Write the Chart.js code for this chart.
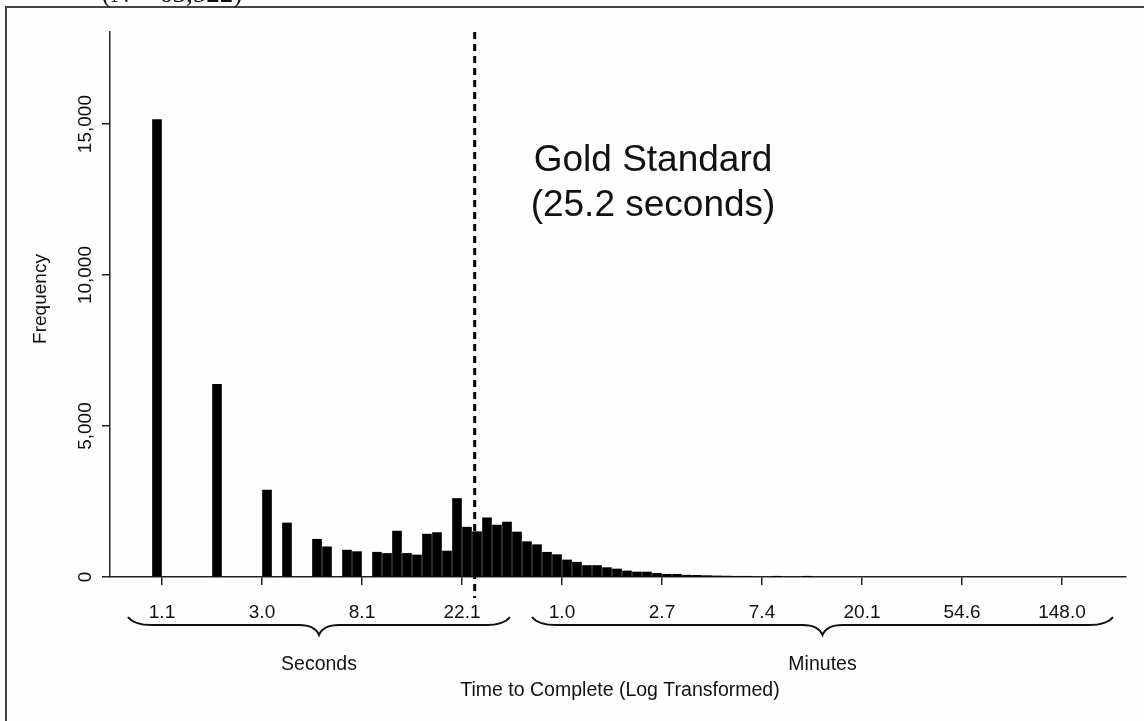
<!DOCTYPE html>
<html>
<head>
<meta charset="utf-8">
<script src="https://cdn.jsdelivr.net/npm/chart.js@4"></script>
<style>
  html, body { margin: 0; padding: 0; background: #fefefe; }
  canvas { display: block; }
</style>
</head>
<body>
<canvas id="hist" width="1144" height="721"></canvas>
<script>
// --- data (log seconds bins, width 0.1) ---
const binStarts = [0.0, 0.6, 1.1, 1.3, 1.6, 1.7, 1.9, 2.0, 2.2, 2.3,
    2.4, 2.5, 2.6, 2.7, 2.8, 2.9, 3.0, 3.1, 3.2, 3.3,
    3.4, 3.5, 3.6, 3.7, 3.8, 3.9, 4.0, 4.1, 4.2, 4.3,
    4.4, 4.5, 4.6, 4.7, 4.8, 4.9, 5.0, 5.1, 5.2, 5.3,
    5.4, 5.5, 5.6, 5.7, 5.8, 5.9, 6.2, 6.5];
const counts = [15150, 6380, 2880, 1790, 1250, 1000, 890, 840, 820, 780,
    1520, 780, 730, 1420, 1470, 860, 2600, 1650, 1500, 1960,
    1720, 1820, 1490, 1170, 1070, 820, 740, 565, 490, 380,
    380, 310, 265, 200, 165, 165, 120, 90, 90, 60,
    55, 45, 35, 30, 25, 20, 15, 15];
const binWidth = 0.1;

const xTickValues = [0.1, 1.1, 2.1, 3.1, 4.1, 5.1, 6.1, 7.1, 8.1, 9.1];
const xTickLabels = ['1.1', '3.0', '8.1', '22.1', '1.0', '2.7', '7.4', '20.1', '54.6', '148.0'];
const yTickValues = [0, 5000, 10000, 15000];

const goldStandardSec = 25.2;
const groups = [
    { label: 'Seconds', from: -0.24, to: 3.58 },
    { label: 'Minutes', from: 3.80, to: 9.61 }
];

const FONT = "'Liberation Sans', Arial, sans-serif";
const INK = '#111';

// --- 注記プラグイン ---
const decor = {
    id: 'decor',
    beforeDraw(chart) {
        const ctx = chart.ctx;
        ctx.save();
        ctx.fillStyle = '#fefefe';
        ctx.fillRect(0, 0, chart.width, chart.height);
        // frame
        ctx.strokeStyle = '#444';
        ctx.lineWidth = 2;
        ctx.beginPath();
        ctx.moveTo(6, chart.height);
        ctx.lineTo(6, 7);
        ctx.lineTo(chart.width, 7);
        ctx.stroke();
        // clipped title
        ctx.fillStyle = '#111';
        ctx.font = "27px 'Liberation Serif', 'Times New Roman', serif";
        ctx.textAlign = 'center';
        ctx.textBaseline = 'alphabetic';
        ctx.fillText('(N = 63,522)', 172, 2);
        ctx.restore();
    },
    afterDatasetsDraw(chart) {
        const { ctx, scales: { x } } = chart;
        const gx = x.getPixelForValue(Math.log(goldStandardSec));
        ctx.save();
        ctx.strokeStyle = '#000';
        ctx.lineWidth = 3;
        ctx.setLineDash([7, 5]);
        ctx.beginPath();
        ctx.moveTo(gx, chart.chartArea.top);
        ctx.lineTo(gx, 598);
        ctx.stroke();
        ctx.restore();
    },
    afterDraw(chart) {
        const { ctx, scales: { x, y } } = chart;
        ctx.save();
        ctx.fillStyle = INK;

        // y tick labels (rotated)
        ctx.font = `19px ${FONT}`;
        ctx.textAlign = 'center';
        ctx.textBaseline = 'alphabetic';
        yTickValues.forEach(v => {
            ctx.save();
            ctx.translate(91, y.getPixelForValue(v));
            ctx.rotate(-Math.PI / 2);
            ctx.fillText(v.toLocaleString('en-US'), 0, 0);
            ctx.restore();
        });
        ctx.save();
        ctx.translate(46, 299);
        ctx.rotate(-Math.PI / 2);
        ctx.fillText('Frequency', 0, 0);
        ctx.restore();

        // braces + group labels
        ctx.strokeStyle = INK;
        ctx.lineWidth = 2;
        groups.forEach(g => {
            const x1 = x.getPixelForValue(g.from);
            const x2 = x.getPixelForValue(g.to);
            const xm = (x1 + x2) / 2;
            const yl = 625, yt = 617, yc = 635;
            ctx.beginPath();
            ctx.moveTo(x1, yt);
            ctx.quadraticCurveTo(x1 + 6, yl, x1 + 24, yl);
            ctx.lineTo(xm - 20, yl);
            ctx.quadraticCurveTo(xm - 4, yl, xm, yc);
            ctx.quadraticCurveTo(xm + 4, yl, xm + 20, yl);
            ctx.lineTo(x2 - 24, yl);
            ctx.quadraticCurveTo(x2 - 6, yl, x2, yt);
            ctx.stroke();
            ctx.font = `19.5px ${FONT}`;
            ctx.fillText(g.label, xm, 670);
        });

        ctx.font = `19.5px ${FONT}`;
        ctx.fillText('Time to Complete (Log Transformed)', 620, 696);

        // gold standard label
        ctx.font = `37px ${FONT}`;
        ctx.fillText('Gold Standard', 653, 171);
        ctx.fillText('(25.2 seconds)', 653, 216);
        ctx.restore();
    }
};

new Chart(document.getElementById('hist'), {
    type: 'bar',
    data: {
        datasets: [{
            label: 'Frequency',
            data: binStarts.map((b, i) => ({ x: b + binWidth / 2, y: counts[i] })),
            backgroundColor: '#000',
            borderWidth: 0,
            barThickness: 9,
            grouped: false
        }]
    },
    options: {
        responsive: false,
        animation: false,
        layout: { padding: { left: 0, top: 32, right: 18, bottom: 0 } },
        plugins: { legend: { display: false }, tooltip: { enabled: false } },
        scales: {
            x: {
                type: 'linear',
                min: -0.42,
                max: 9.74,
                offset: false,
                afterFit: s => { s.height = 144; },
                afterBuildTicks: s => { s.ticks = xTickValues.map(v => ({ value: v })); },
                border: { display: true, color: '#222', width: 1.5 },
                grid: { display: true, drawOnChartArea: false, drawTicks: true, tickLength: 8, color: '#222', lineWidth: 1.5, offset: false },
                ticks: {
                    autoSkip: false,
                    maxRotation: 0,
                    padding: 16,
                    color: INK,
                    font: { family: FONT, size: 19 },
                    callback: (v, i) => xTickLabels[i]
                }
            },
            y: {
                min: 0,
                max: 18050,
                afterFit: s => { s.width = 110; },
                afterBuildTicks: s => { s.ticks = yTickValues.map(v => ({ value: v })); },
                border: { display: true, color: '#222', width: 1.5 },
                grid: { display: true, drawOnChartArea: false, drawTicks: true, tickLength: 8, color: '#222', lineWidth: 1.5 },
                ticks: { display: false }
            }
        }
    },
    plugins: [decor]
});
</script>
</body>
</html>
